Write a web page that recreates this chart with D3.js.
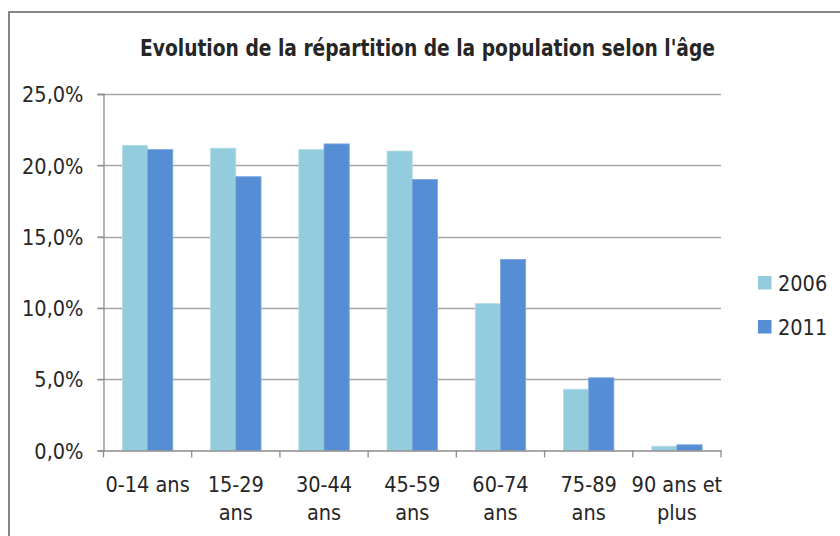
<!DOCTYPE html>
<html>
<head>
<meta charset="utf-8">
<script src="https://cdn.jsdelivr.net/npm/d3@7"></script>
<style>
  html, body { margin: 0; padding: 0; background: #fff; }
  svg { display: block; }
  .lbl { font-family: "Liberation Sans Narrow", "DejaVu Sans Condensed", "Arial Narrow", sans-serif; fill: #262626; }
</style>
</head>
<body>
<svg id="chart" width="840" height="536"></svg>
<script>
const title = "Evolution de la répartition de la population selon l'âge";
const categories = ["0-14 ans", "15-29 ans", "30-44 ans", "45-59 ans", "60-74 ans", "75-89 ans", "90 ans et plus"];
const tickLabels = ["0-14 ans", "15-29\nans", "30-44\nans", "45-59\nans", "60-74\nans", "75-89\nans", "90 ans et\nplus"];
const seriesNames = ["2006", "2011"];
const values2006 = [21.4, 21.2, 21.1, 21.0, 10.3, 4.3, 0.3];
const values2011 = [21.1, 19.2, 21.5, 19.0, 13.4, 5.1, 0.4];
const yTicks = [0, 5, 10, 15, 20, 25];
const colors = ["#93CDDD", "#558ED5"];

const svg = d3.select("#chart");
const W = 840, H = 536;
const plot = { left: 103.5, right: 721, top: 94, bottom: 450.5 };

svg.append("rect").attr("width", W).attr("height", H).attr("fill", "#fff");
// chart frame
svg.append("rect").attr("x", 9).attr("y", 12).attr("width", 860).attr("height", 560)
  .attr("fill", "none").attr("stroke", "#868686").attr("stroke-width", 2);

// title
svg.append("text").attr("class", "lbl")
  .attr("x", 427.5).attr("y", 56).attr("text-anchor", "middle")
  .style("font-size", "23.5px").style("font-weight", "bold").attr("fill", "#000")
  .attr("textLength", 575).attr("lengthAdjust", "spacingAndGlyphs")
  .text(title);

const y = d3.scaleLinear().domain([0, 25]).range([plot.bottom, plot.top]);
const x = d3.scaleBand().domain(categories).range([plot.left, plot.right]).paddingInner(0).paddingOuter(0);
const bw = x.bandwidth();
const barW = bw / 3.5;
const xs = d3.scaleBand().domain(seriesNames).range([0, 2 * barW]).padding(0);

// gridlines
svg.append("g").selectAll("line").data(yTicks.filter(d => d > 0)).join("line")
  .attr("x1", plot.left - 6).attr("x2", plot.right)
  .attr("y1", d => Math.round(y(d)) + 0.5).attr("y2", d => Math.round(y(d)) + 0.5)
  .attr("stroke", "#A6A6A6").attr("stroke-width", 1.5);

// y axis
const yAxis = d3.axisLeft(y).tickValues(yTicks).tickSize(6).tickPadding(14)
  .tickFormat(d => d3.format(".1f")(d).replace(".", ",") + "%");
const gy = svg.append("g").attr("transform", `translate(${plot.left},0)`).call(yAxis);
gy.select(".domain").attr("stroke", "#8C8C8C").attr("stroke-width", 1.3);
gy.selectAll(".tick line").attr("stroke", "#8C8C8C").attr("stroke-width", 1.3);
gy.selectAll(".tick text").attr("class", "lbl").style("font-size", "21.5px").attr("fill", "#262626").attr("dy", "0.36em");

// bars
const data = categories.map((c, i) => ({ c, vals: [values2006[i], values2011[i]] }));
const groups = svg.append("g").selectAll("g").data(data).join("g")
  .attr("transform", d => `translate(${x(d.c) + bw / 2 - barW},0)`);
groups.selectAll("rect").data(d => d.vals.map((v, k) => ({ s: seriesNames[k], v, k }))).join("rect")
  .attr("x", d => xs(d.s)).attr("width", xs.bandwidth())
  .attr("y", d => y(d.v)).attr("height", d => y(0) - y(d.v))
  .attr("fill", d => colors[d.k])
  .attr("stroke", d => d.k === 0 ? "#B4DCE8" : "#7AA6DE").attr("stroke-width", 0.8);

// x axis
const xAxis = d3.axisBottom(x).tickSize(0).tickFormat("");
const gx = svg.append("g").attr("transform", `translate(0,${plot.bottom})`).call(xAxis);
gx.select(".domain").attr("stroke", "#8C8C8C").attr("stroke-width", 1.3);
// category boundary ticks
const bounds = categories.map(c => x(c)).concat([plot.right]);
gx.append("g").selectAll("line").data(bounds).join("line")
  .attr("x1", d => d).attr("x2", d => d).attr("y1", 0).attr("y2", 7)
  .attr("stroke", "#8C8C8C").attr("stroke-width", 1.3);
// labels
const lab = svg.append("g").selectAll("text").data(categories).join("text")
  .attr("class", "lbl").style("font-size", "21.5px").attr("text-anchor", "middle")
  .attr("x", d => x(d) + bw / 2).attr("y", 491.5);
lab.each(function (d, i) {
  const lines = tickLabels[i].split("\n");
  d3.select(this).selectAll("tspan").data(lines).join("tspan")
    .attr("x", x(d) + bw / 2).attr("dy", (l, j) => j === 0 ? 0 : 28.5).text(l => l);
});

// legend
const leg = svg.append("g").selectAll("g").data(seriesNames).join("g")
  .attr("transform", (d, i) => `translate(758,${276 + i * 44})`);
leg.append("rect").attr("width", 13.5).attr("height", 13.5).attr("fill", (d, i) => colors[i]);
leg.append("text").attr("class", "lbl").style("font-size", "21.5px")
  .attr("x", 20).attr("y", 14.5).text(d => d);
</script>
</body>
</html>
